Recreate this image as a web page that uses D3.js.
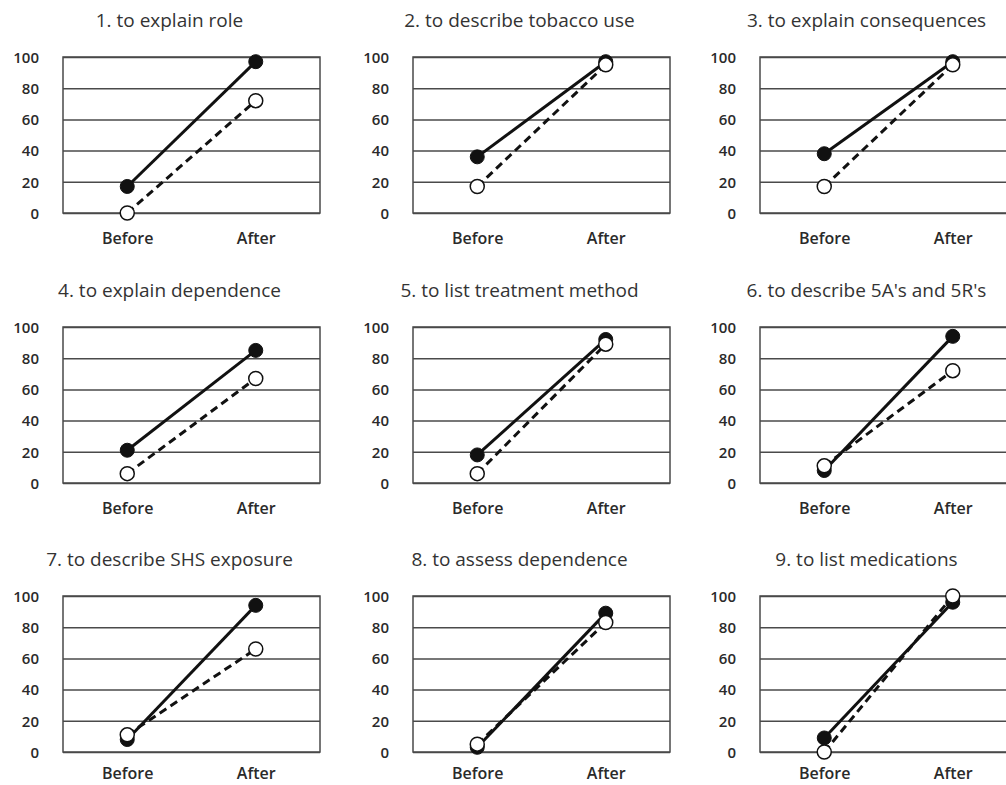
<!DOCTYPE html>
<html>
<head>
<meta charset="utf-8">
<script src="https://cdn.jsdelivr.net/npm/d3@7"></script>
<style>
  body { margin: 0; background: #fff; }
  svg { display: block; overflow: hidden; }
  text { font-family: "Open Sans", Lato, sans-serif; fill: #2a2a2a; }
  .grid line { stroke: #4a4a4a; stroke-width: 1.5; }
  .grid path { display: none; }
  .yaxis path, .yaxis line { display: none; }
  .xaxis path, .xaxis line { display: none; }
</style>
</head>
<body>
<div id="content"></div>
<script>
var titles = [
  "1. to explain role",
  "2. to describe tobacco use",
  "3. to explain consequences",
  "4. to explain dependence",
  "5. to list treatment method",
  "6. to describe 5A's and 5R's",
  "7. to describe SHS exposure",
  "8. to assess dependence",
  "9. to list medications"
];
var categories = ["Before", "After"];
var solidBefore = [17, 36, 38, 21, 18, 8, 8, 3, 9];
var solidAfter = [97, 97, 97, 85, 92, 94, 94, 89, 96];
var dashedBefore = [0, 17, 17, 6, 6, 11, 11, 5, 0];
var dashedAfter = [72, 95, 95, 67, 89, 72, 66, 83, 100];
var yTicks = [0, 20, 40, 60, 80, 100];

var width = 1006;
var height = 785;

var colX = [63, 413, 760];
var rowY = [57, 327, 596];
var boxW = 257;
var boxH = 156;

var svg = d3.select("#content").append("svg")
  .attr("width", width)
  .attr("height", height);

var x = d3.scalePoint().domain(categories).range([0, boxW]).padding(0.5);
var y = d3.scaleLinear().domain([0, 100]).range([boxH, 0]);

var line = d3.line()
  .x(d => x(d.cat))
  .y(d => y(d.value));

titles.forEach(function (title, i) {
  var col = i % 3;
  var row = Math.floor(i / 3);
  var g = svg.append("g")
    .attr("transform", `translate(${colX[col]}, ${rowY[row]})`);

  var solid = [
    { cat: categories[0], value: solidBefore[i] },
    { cat: categories[1], value: solidAfter[i] }
  ];
  var dashed = [
    { cat: categories[0], value: dashedBefore[i] },
    { cat: categories[1], value: dashedAfter[i] }
  ];

  // title
  g.append("text")
    .attr("x", boxW / 2 - 22)
    .attr("y", -30)
    .style("text-anchor", "middle")
    .style("font-size", "19px")
    .style("fill", "#333")
    .text(title);

  // grid lines
  g.append("g")
    .attr("class", "grid")
    .call(d3.axisLeft(y).tickValues(yTicks).tickSize(-boxW).tickFormat(""));

  // box
  g.append("rect")
    .attr("width", boxW)
    .attr("height", boxH)
    .attr("fill", "none")
    .attr("stroke", "#4a4a4a")
    .attr("stroke-width", 1.5);

  // y labels
  var ya = g.append("g")
    .attr("class", "yaxis")
    .call(d3.axisLeft(y).tickValues(yTicks).tickSize(0).tickPadding(24));
  ya.selectAll("text").style("font-size", "15px").style("font-weight", "600").attr("dy", "0.35em");

  // x labels (last row sits against the bottom edge)
  var xa = g.append("g")
    .attr("class", "xaxis")
    .attr("transform", `translate(0, ${boxH})`)
    .call(d3.axisBottom(x).tickSize(0).tickPadding(row === 2 ? 16 : 20));
  xa.selectAll("text").style("font-size", "16px").style("font-weight", "600");

  // lines
  g.append("path")
    .datum(solid)
    .attr("d", line)
    .attr("fill", "none")
    .attr("stroke", "#111")
    .attr("stroke-width", 3);

  g.append("path")
    .datum(dashed)
    .attr("d", line)
    .attr("fill", "none")
    .attr("stroke", "#111")
    .attr("stroke-width", 3)
    .attr("stroke-dasharray", "8,5");

  // markers
  g.selectAll(".filled")
    .data(solid)
    .enter()
    .append("circle")
    .attr("class", "filled")
    .attr("cx", d => x(d.cat))
    .attr("cy", d => y(d.value))
    .attr("r", 7)
    .attr("fill", "#111")
    .attr("stroke", "#111")
    .attr("stroke-width", 1);

  g.selectAll(".open")
    .data(dashed)
    .enter()
    .append("circle")
    .attr("class", "open")
    .attr("cx", d => x(d.cat))
    .attr("cy", d => y(d.value))
    .attr("r", 7)
    .attr("fill", "#fff")
    .attr("stroke", "#111")
    .attr("stroke-width", 1.5);
});
</script>
</body>
</html>
